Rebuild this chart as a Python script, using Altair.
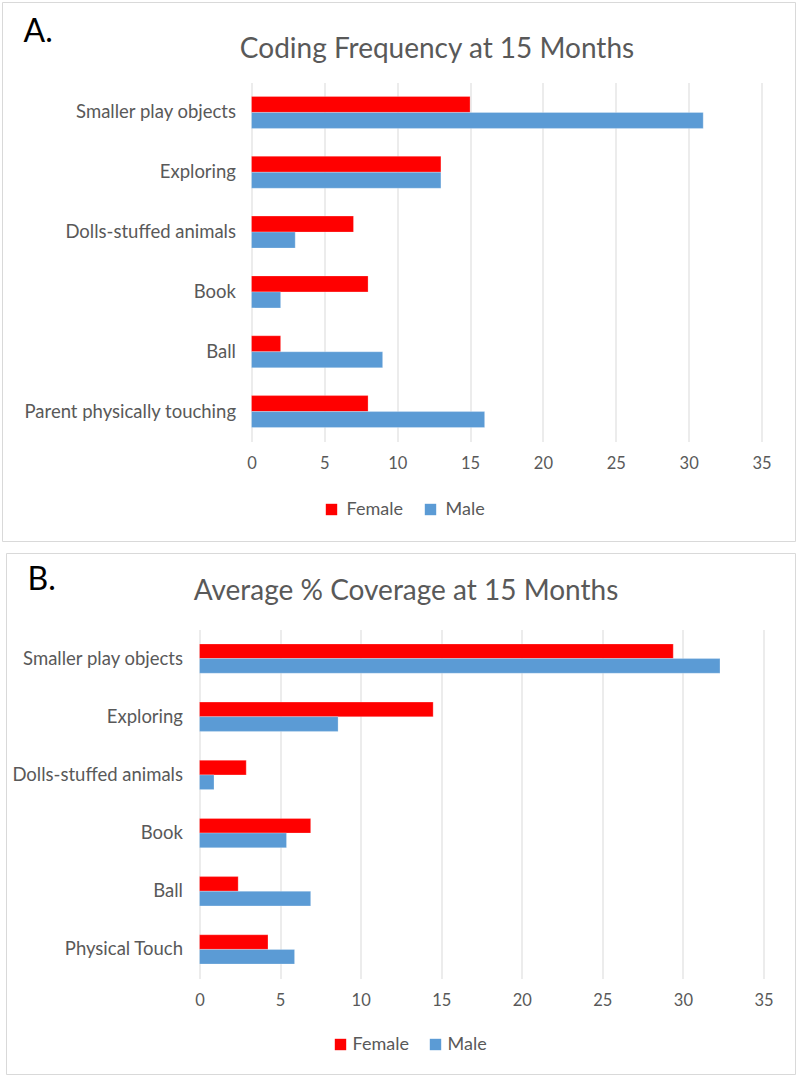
import altair as alt
import pandas as pd

# ---------------- data ----------------
SEXES = ["Female", "Male"]
COLORS = ["#FF0000", "#5B9BD5"]
X_TICKS = [0, 5, 10, 15, 20, 25, 30, 35]

TITLE_A = "Coding Frequency at 15 Months"
LETTER_A = "A."
CATEGORIES_A = ["Smaller play objects", "Exploring", "Dolls-stuffed animals",
                "Book", "Ball", "Parent physically touching"]
FEMALE_A = [15, 13, 7, 8, 2, 8]
MALE_A = [31, 13, 3, 2, 9, 16]

TITLE_B = "Average % Coverage at 15 Months"
LETTER_B = "B."
CATEGORIES_B = ["Smaller play objects", "Exploring", "Dolls-stuffed animals",
                "Book", "Ball", "Physical Touch"]
FEMALE_B = [29.4, 14.5, 2.9, 6.9, 2.4, 4.25]
MALE_B = [32.3, 8.6, 0.9, 5.4, 6.9, 5.9]

FONT = "Lato"
GRAY = "#595959"
GRID = "#D9D9D9"


def long_table(cats, female, male):
    rows = []
    for c, f, m in zip(cats, female, male):
        rows.append({"category": c, "sex": SEXES[0], "value": f})
        rows.append({"category": c, "sex": SEXES[1], "value": m})
    return pd.DataFrame(rows)


def panel(cats, female, male, title, letter, width, height, xrange,
          y_offset, y_label_pad, pad_inner, box, title_xy, letter_xy,
          legend_xy, legend_label_offset, legend_col_pad):
    df = long_table(cats, female, male)

    xscale = dict(domain=[0, 35], nice=False, zero=True)
    if xrange is not None:
        xscale["range"] = xrange

    bars = alt.Chart(df).mark_bar(stroke="#FFFFFF", strokeOpacity=0.25, strokeWidth=1).encode(
        x=alt.X("value:Q", scale=alt.Scale(**xscale),
                axis=alt.Axis(values=X_TICKS, title=None, grid=True, gridColor=GRID,
                              gridWidth=1, domain=False, ticks=False, labelPadding=14,
                              labelFont=FONT, labelFontSize=16.5, labelColor=GRAY,
                              labelFlush=False)),
        y=alt.Y("category:N", sort=cats,
                scale=alt.Scale(paddingInner=pad_inner, paddingOuter=pad_inner / 2),
                axis=alt.Axis(title=None, domain=False, ticks=False, offset=y_offset,
                              labelPadding=y_label_pad, labelFont=FONT, labelFontSize=18.5,
                              labelColor=GRAY, labelLimit=400)),
        yOffset=alt.YOffset("sex:N", sort=SEXES),
        color=alt.Color("sex:N", scale=alt.Scale(domain=SEXES, range=COLORS),
                        legend=alt.Legend(title=None, orient="none", legendX=legend_xy[0],
                                          legendY=legend_xy[1], direction="horizontal",
                                          symbolType="square", symbolSize=130,
                                          symbolStrokeWidth=0, symbolOpacity=1,
                                          labelFont=FONT, labelFontSize=18,
                                          labelColor=GRAY, labelOffset=legend_label_offset,
                                          columnPadding=legend_col_pad, padding=0)),
    )

    frame = alt.Chart(pd.DataFrame({"k": [0]})).mark_rect(
        fill="transparent", stroke=GRID, strokeWidth=1
    ).encode(x=alt.value(box[0]), x2=alt.value(box[1]),
             y=alt.value(box[2]), y2=alt.value(box[3]))

    title_text = alt.Chart(pd.DataFrame({"t": [title]})).mark_text(
        font=FONT, fontSize=28, color=GRAY, align="center", baseline="alphabetic"
    ).encode(text="t:N", x=alt.value(title_xy[0]), y=alt.value(title_xy[1]))

    letter_text = alt.Chart(pd.DataFrame({"t": [letter]})).mark_text(
        font=FONT, fontSize=32, color="#000000", align="left", baseline="alphabetic"
    ).encode(text="t:N", x=alt.value(letter_xy[0]), y=alt.value(letter_xy[1]))

    return alt.layer(frame, bars, title_text, letter_text).properties(
        width=width, height=height)


panel_a = panel(CATEGORIES_A, FEMALE_A, MALE_A, TITLE_A, LETTER_A,
                width=562, height=359, xrange=[52, 562], y_offset=-52, y_label_pad=16,
                pad_inner=0.465, box=(-197, 596, -80, 459), title_xy=(237.5, -25),
                letter_xy=(-176, -41), legend_xy=(123, 418), legend_label_offset=6,
                legend_col_pad=18)

panel_b = panel(CATEGORIES_B, FEMALE_B, MALE_B, TITLE_B, LETTER_B,
                width=564, height=349, xrange=None, y_offset=0, y_label_pad=17,
                pad_inner=0.496, box=(-193, 596, -76, 445), title_xy=(206.5, -30),
                letter_xy=(-172, -40), legend_xy=(132, 406), legend_label_offset=3,
                legend_col_pad=17)

chart = alt.vconcat(panel_a, panel_b, spacing=10).resolve_scale(
    x="independent", y="independent", yOffset="independent", color="independent"
).resolve_legend(color="independent").configure(
    padding={"left": 1.5, "top": 1.5, "right": 0, "bottom": 0}
).configure_view(strokeWidth=0)

chart.save("out.html", embed_options={"renderer": "svg", "actions": False})
